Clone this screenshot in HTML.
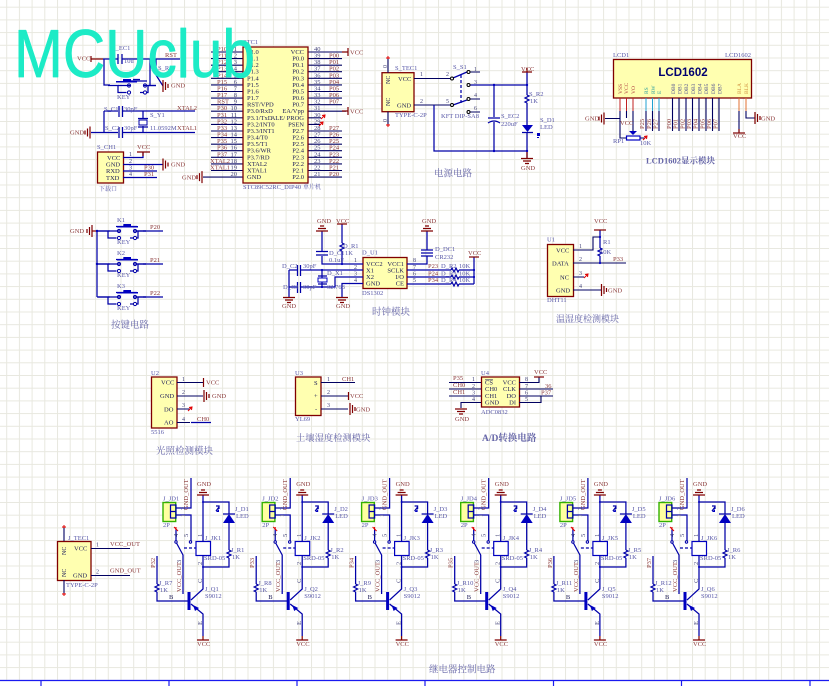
<!DOCTYPE html>
<html><head><meta charset="utf-8"><style>
html,body{margin:0;padding:0;background:#fff}
svg{display:block}
text{font-family:"Liberation Serif","Noto Serif CJK SC",serif;font-size:6.5px}
.w{fill:none;stroke:#0000a8;stroke-width:1.25}
.k{fill:none;stroke:#000060;stroke-width:1.1}
.r{fill:none;stroke:#800000;stroke-width:1.2}
.x{fill:none;stroke:#e00000;stroke-width:1}
.c{fill:#ffffb0;stroke:#800000;stroke-width:1.3}
.f{fill:#0000c0;stroke:none}
.t{fill:#20205a}
.n{fill:#8a3838}
.d{fill:#5858a8}
.z{fill:#44447a;font-size:6px}
.h{fill:#6666a8;font-size:9.5px}
.e{text-anchor:end}
.m{text-anchor:middle}
.b{filter:blur(.3px)}
</style></head><body>
<svg xmlns="http://www.w3.org/2000/svg" width="829" height="686" viewBox="0 0 829 686">
<defs>
<pattern id="gr" x="6.2" y="6.7" width="12.7" height="12.7" patternUnits="userSpaceOnUse"><path d="M0.5 0V12.7M0 0.5H12.7" fill="none" stroke="#e8e8df" stroke-width="1"/></pattern>
<g id="gl" class="r"><path d="M0 -6V6M-2.5 -4V4M-5 -2V2"/></g>
<g id="gg" class="r"><path d="M0 -6V6M2.5 -4V4M5 -2V2"/></g>
<g id="gd" class="r"><path d="M-6 0H6M-4 2.5H4M-2 5H2"/></g>
<g id="gu" class="r"><path d="M-6 0H6M-4 -2.5H4M-2 -5H2"/></g>
<path id="rv" class="w" d="M0 0l2 1-4 2 4 2-4 2 2 1"/>
<path id="rh" class="w" d="M0 0l1-2 2 4 2-4 2 4 1-2"/>
<path id="nc" class="x" d="M-2 2L2 -2M-1 -1.5L2 -2L1.5 1"/>
<g id="sw"><path class="w" d="M-2 0H8V7H16.5M46 0H38V7H30M16 -4.5H37M23 -6H30" stroke-width="1.4"/><circle cx="19" cy="0" r="1.6" fill="#fff" stroke="#0000a8"/><circle cx="19" cy="7" r="1.6" fill="#fff" stroke="#0000a8"/><circle cx="35" cy="0" r="1.6" fill="#fff" stroke="#0000a8"/><circle cx="35" cy="7" r="1.6" fill="#fff" stroke="#0000a8"/><path class="w" d="M20 0H8M34 0H46"/></g>
<g id="relay">
<rect x="163" y="502.5" width="12.7" height="19" fill="#ffffa0" stroke="#33b000" stroke-width="1.4"/>
<path class="w" d="M170.5 505h5.5v13h-5.5zM170.5 511.5h5.5M176 508H191V478M176 515H191V541M176 529V541"/>
<path class="x" d="M174 527L178 531M176 527V530"/>
<circle cx="190.5" cy="542" r="1.2" fill="#fff" stroke="#0000a8"/><circle cx="176" cy="542" r="1.2" fill="#fff" stroke="#0000a8"/>
<path class="w" d="M176.5 543L183 555V594"/>
<path class="w" d="M184 548H196" stroke-dasharray="3 2"/>
<rect x="196" y="541.5" width="14.5" height="14" fill="#fff" stroke="#0000c0" stroke-width="1.2"/>
<path class="w" d="M203 495V541.5M203 555.5V589L191 600M191 604L203 614V636M203 502H229V514M229 522V550M229 558V567H203M157 556V584M157 592V601H188"/>
<path class="r" d="M203 636V640M197 640H209"/>
<use href="#gu" x="203" y="495"/>
<use href="#rv" x="229" y="550"/><use href="#rv" x="157" y="584"/>
<path class="f" d="M229 514L235 523H223Z"/><path class="w" d="M223 514H235" stroke-width="1.4"/>
<path class="w" d="M219 507L216 511M216 506L219 506V509"/><path class="f" d="M216 512h3v-3z"/>
<rect x="187.5" y="592" width="3" height="18" class="f"/>
<path class="f" d="M193 605L199 608L195 611Z"/>
<circle cx="203" cy="502" r="1" class="f"/><circle cx="203" cy="567" r="1" class="f"/>
</g>
</defs>
<rect width="829" height="686" fill="#fff"/>
<rect width="829" height="680" fill="url(#gr)"/>
<path d="M0 680.5H829M41 680V686M169 680V686M297 680V686M425 680V686M553.500 680V686M681.500 680V686M810 680V686" fill="none" stroke="#1a1af0" stroke-width="1.2"/>
<g class="b">

<!-- Reset / crystal -->
<g>
<path class="r" d="M91 56V62M91 59H103"/>
<path class="w" d="M103 59H118M122.500 59H180M104 59V85H110M150 85V59M156 59V75M156 75L163 86"/>
<path class="w" d="M118 54V64M122 54V64" stroke-width="1.3"/>
<use href="#sw" x="110" y="85.500"/>
<path class="f" d="M116 81h21v1.500h-21zM123 79h8v2h-8z"/>
<use href="#gg" x="163" y="86"/>
<text x="77" y="60.500" class="n">VCC</text><text x="112" y="50" class="d">S_EC1</text><text x="124" y="63" class="d">10u</text><text x="165" y="57" class="n">RST</text><text x="158" y="70" class="d">S_R1</text><text x="171" y="87.500" class="n">GND</text><text x="117" y="99" class="d">KEY</text>
<path class="w" d="M104 111H118M122.500 111H195M104 111V132.500M91 132.500H118M122.500 132.500H195M143 111V119M143 126V132.500"/>
<path class="w" d="M119 106V117M122.500 106V117M119 127V138M122.500 127V138M138 118.500H148M138 127H148" stroke-width="1.3"/>
<rect x="139" y="120" width="8" height="5" fill="#fff" stroke="#0000a8"/>
<use href="#gl" x="90" y="132.500"/>
<text x="70" y="134.500" class="n">GND</text><text x="104" y="111" class="d">S_C1</text><text x="124" y="111" class="d">30pF</text><text x="105" y="130" class="d">S_C2</text><text x="124" y="130" class="d">30pF</text><text x="150" y="117" class="d">S_Y1</text><text x="150" y="130" class="d">11.0592M</text><text x="177" y="110" class="n">XTAL2</text><text x="177" y="130" class="n">XTAL1</text>
<rect x="97.500" y="152" width="26" height="31" class="c"/>
<path class="w" d="M123 157.500H143V152M123 164.500H163M123 171H157M123 177.500H157"/>
<path class="r" d="M143 156V152M137 152H150"/><use href="#gg" x="163" y="164.500"/>
<text x="97" y="149" class="d">S_CH1</text><text x="107" y="160" class="t">VCC</text><text x="106" y="166.500" class="t">GND</text><text x="106" y="173" class="t">RXD</text><text x="106" y="180" class="t">TXD</text>
<text x="129" y="156" class="z">1</text><text x="129" y="163" class="z">2</text><text x="129" y="169.500" class="z">3</text><text x="129" y="176" class="z">4</text>
<text x="137" y="149" class="n">VCC</text><text x="171" y="166.500" class="n">GND</text><text x="144" y="169.500" class="n">P30</text><text x="144" y="176" class="n">P31</text>
<text x="99" y="191" class="d" style="font-size:6px">下载口</text>
</g>

<!-- STC89C52 -->
<g>
<path class="k" d="M211 52H243M211 58.600H243M211 65.200H243M211 71.700H243M211 78.300H243M211 84.900H243M211 91.500H243M211 98.100H243M211 104.700H243M211 111.200H243M211 117.800H243M211 124.400H243M211 131H243M211 137.600H243M211 144.200H243M211 150.700H243M211 157.300H243M211 163.900H243M211 170.500H243M203 177.100H243M308 52H346M308 58.600H342M308 65.200H342M308 71.700H342M308 78.300H342M308 84.900H342M308 91.500H342M308 98.100H342M308 111.200H346M308 117.800H321M308 124.400H321M308 131H342M308 137.600H342M308 144.200H342M308 150.700H342M308 157.300H342M308 163.900H342M308 170.500H342M308 177.100H342M308 104.700H342"/>
<path class="r" d="M348 48V56M348 107V115M348 52H342M348 111H342"/>
<use href="#nc" x="323" y="117"/><use href="#nc" x="321" y="124"/>
<use href="#gl" x="202" y="177.100"/>
<rect x="243" y="47" width="65" height="136" class="c"/>
<text x="243" y="44" class="d">STC1</text><text x="243" y="189" class="d">STC89C52RC_DIP40</text><text x="303" y="189" class="d" style="font-size:6px">单片机</text>
<text x="182" y="179.500" class="n">GND</text><text x="350" y="54.500" class="n">VCC</text><text x="350" y="113.500" class="n">VCC</text>
<g class="t">
<text x="247" y="54">P1.0</text><text x="247" y="60.600">P1.1</text><text x="247" y="67.200">P1.2</text><text x="247" y="73.700">P1.3</text><text x="247" y="80.300">P1.4</text><text x="247" y="86.900">P1.5</text><text x="247" y="93.500">P1.6</text><text x="247" y="100.100">P1.7</text><text x="247" y="106.700">RST/VPD</text><text x="247" y="113.200">P3.0/RxD</text><text x="247" y="119.800">P3.1/TxD</text><text x="247" y="126.400">P3.2/INT0</text><text x="247" y="133">P3.3/INT1</text><text x="247" y="139.600">P3.4/T0</text><text x="247" y="146.200">P3.5/T1</text><text x="247" y="152.700">P3.6/WR</text><text x="247" y="159.300">P3.7/RD</text><text x="247" y="165.900">XTAL2</text><text x="247" y="172.500">XTAL1</text><text x="247" y="179.100">GND</text>
<g text-anchor="end"><text x="304" y="54">VCC</text><text x="304" y="60.600">P0.0</text><text x="304" y="67.200">P0.1</text><text x="304" y="73.700">P0.2</text><text x="304" y="80.300">P0.3</text><text x="304" y="86.900">P0.4</text><text x="304" y="93.500">P0.5</text><text x="304" y="100.100">P0.6</text><text x="304" y="106.700">P0.7</text><text x="304" y="113.200">EA/Vpp</text><text x="304" y="119.800">ALE/ PROG</text><text x="304" y="126.400">PSEN</text><text x="304" y="133">P2.7</text><text x="304" y="139.600">P2.6</text><text x="304" y="146.200">P2.5</text><text x="304" y="152.700">P2.4</text><text x="304" y="159.300">P2.3</text><text x="304" y="165.900">P2.2</text><text x="304" y="172.500">P2.1</text><text x="304" y="179.100">P2.0</text></g>
</g>
<g class="z" text-anchor="end">
<text x="237" y="51">1</text><text x="237" y="57.600">2</text><text x="237" y="64.200">3</text><text x="237" y="70.700">4</text><text x="237" y="77.300">5</text><text x="237" y="83.900">6</text><text x="237" y="90.500">7</text><text x="237" y="97.100">8</text><text x="237" y="103.700">9</text><text x="237" y="110.200">10</text><text x="237" y="116.800">11</text><text x="237" y="123.400">12</text><text x="237" y="130">13</text><text x="237" y="136.600">14</text><text x="237" y="143.200">15</text><text x="237" y="149.700">16</text><text x="237" y="156.300">17</text><text x="237" y="162.900">18</text><text x="237" y="169.500">19</text><text x="237" y="176.100">20</text>
</g>
<g class="z">
<text x="314" y="51">40</text><text x="314" y="57.600">39</text><text x="314" y="64.200">38</text><text x="314" y="70.700">37</text><text x="314" y="77.300">36</text><text x="314" y="83.900">35</text><text x="314" y="90.500">34</text><text x="314" y="97.100">33</text><text x="314" y="103.700">32</text><text x="314" y="110.200">31</text><text x="314" y="116.800">30</text><text x="314" y="123.400">29</text><text x="314" y="130">28</text><text x="314" y="136.600">27</text><text x="314" y="143.200">26</text><text x="314" y="149.700">25</text><text x="314" y="156.300">24</text><text x="314" y="162.900">23</text><text x="314" y="169.500">22</text><text x="314" y="176.100">21</text>
</g>
<g class="n">
<text x="217" y="51">P10</text><text x="217" y="57.600">P11</text><text x="217" y="64.200">P12</text><text x="217" y="70.700">P13</text><text x="217" y="77.300">P14</text><text x="217" y="83.900">P15</text><text x="217" y="90.500">P16</text><text x="217" y="97.100">P17</text><text x="217" y="103.700">RST</text><text x="217" y="110.200">P30</text><text x="217" y="116.800">P31</text><text x="217" y="123.400">P32</text><text x="217" y="130">P33</text><text x="217" y="136.600">P34</text><text x="217" y="143.200">P35</text><text x="217" y="149.700">P36</text><text x="217" y="156.300">P37</text><text x="210" y="162.900">XTAL2</text><text x="210" y="169.500">XTAL1</text>
<text x="329" y="57.600">P00</text><text x="329" y="64.200">P01</text><text x="329" y="70.700">P02</text><text x="329" y="77.300">P03</text><text x="329" y="83.900">P04</text><text x="329" y="90.500">P05</text><text x="329" y="97.100">P06</text><text x="329" y="103.700">P07</text><text x="329" y="130">P27</text><text x="329" y="136.600">P26</text><text x="329" y="143.200">P25</text><text x="329" y="149.700">P24</text><text x="329" y="156.300">P23</text><text x="329" y="162.900">P22</text><text x="329" y="169.500">P21</text><text x="329" y="176.100">P20</text>
</g>
</g>

<!-- Power -->
<g>
<rect x="382" y="72.700" width="32" height="39" class="c"/>
<path class="k" d="M388 72.700V58M388 111.700V125M414 78.500H441M414 105H434"/>
<path class="x" d="M386 58H390M388 56V59M386 125H390M388 127V124"/>
<text x="398" y="81" class="t">VCC</text><text x="397" y="107.500" class="t">GND</text>
<text transform="rotate(-90 390 84)" x="390" y="84" class="t" style="font-size:6px">NC</text><text transform="rotate(-90 390 106)" x="390" y="106" class="t" style="font-size:6px">NC</text>
<text x="395" y="70" class="d">S_TEC1</text><text x="395" y="117" class="d">TYPE-C-2P</text>
<text transform="rotate(-90 387 68)" x="387" y="68" class="z">0</text><text transform="rotate(-90 387 122)" x="387" y="122" class="z">0</text>
<text x="420" y="76" class="z">1</text><text x="420" y="103" class="z">2</text><text x="446" y="76" class="z">2</text><text x="446" y="103" class="z">5</text>
<path class="k" d="M430 78.500H450M430 105H450M470 72H480M470 99H480M470 112H480"/>
<path class="w" d="M453 78L467 72M453 105L467 100"/><path class="w" d="M461 75V103" stroke-dasharray="3 2"/>
<path class="w" d="M470 85H527M434 105V151H527M494 85V117M494 122V151M527 72V95M527 103V125M527 132V158"/>
<circle cx="452" cy="78.500" r="1.5" fill="#fff" stroke="#000"/><circle cx="452" cy="105" r="1.500" fill="#fff" stroke="#000"/><circle cx="468.500" cy="72" r="1.500" fill="#fff" stroke="#000"/><circle cx="468.500" cy="85" r="1.500" fill="#fff" stroke="#000"/><circle cx="468.500" cy="99" r="1.500" fill="#fff" stroke="#000"/><circle cx="468.500" cy="112" r="1.500" fill="#fff" stroke="#000"/>
<text x="474" y="71" class="z">1</text><text x="474" y="84" class="z">3</text><text x="474" y="97" class="z">4</text><text x="474" y="110" class="z">6</text>
<text x="453" y="69" class="d">S_S1</text><text x="441" y="118" class="d">KFT DIP-SA8</text>
<circle cx="494" cy="85" r="1.200" class="f"/><circle cx="494" cy="151" r="1.200" class="f"/><circle cx="527" cy="85" r="1.200" class="f"/><circle cx="527" cy="151" r="1.200" class="f"/>
<path class="w" d="M488 118H500M488 123Q494 119 500 123" stroke-width="1.300"/>
<text x="501" y="118" class="d">S_EC2</text><text x="501" y="126" class="d">220uF</text>
<path class="r" d="M522 72H532M527 72V68"/><text x="521" y="71" class="n">VCC</text>
<use href="#rv" x="527" y="95"/><text x="529" y="96" class="d">S_R2</text><text x="530" y="103" class="d">1K</text>
<path class="f" d="M522 125H533L527.500 132Z"/><path class="w" d="M522 132.500H533" stroke-width="1.300"/>
<path class="f" d="M537 133h3v3h-3zM537 138h2v-1h-2z"/>
<text x="540" y="122" class="d">S_D1</text><text x="540" y="129" class="d">LED</text>
<path class="r" d="M527 152V158"/><use href="#gd" x="527" y="158.500"/><text x="521" y="170" class="n">GND</text>
<text x="434" y="176.500" class="h">电源电路</text>
</g>

<!-- LCD -->
<g>
<rect x="613.500" y="59.500" width="138" height="38.500" class="c"/>
<text x="683" y="76" class="m" style="font:bold 11.5px 'Liberation Sans',sans-serif;fill:#000070">LCD1602</text>
<text x="613" y="57" class="d">LCD1</text><text x="725" y="57" class="d">LCD1602</text>
<g fill="#b04040"><text transform="rotate(-90 622 94)" x="622" y="94" style="font-size:5.500px">VSS</text><text transform="rotate(-90 628 94)" x="628" y="94" style="font-size:5.500px">VCC</text><text transform="rotate(-90 635 94)" x="635" y="94" style="font-size:5.500px">VO</text></g>
<g fill="#30a0a0"><text transform="rotate(-90 648 94)" x="648" y="94" style="font-size:5.500px">RS</text><text transform="rotate(-90 655 94)" x="655" y="94" style="font-size:5.500px">RW</text><text transform="rotate(-90 661 94)" x="661" y="94" style="font-size:5.500px">E</text></g>
<g fill="#505090"><text transform="rotate(-90 675 94)" x="675" y="94" style="font-size:5.500px">DB0</text><text transform="rotate(-90 681.500 94)" x="681.500" y="94" style="font-size:5.500px">DB1</text><text transform="rotate(-90 688 94)" x="688" y="94" style="font-size:5.500px">DB2</text><text transform="rotate(-90 695 94)" x="695" y="94" style="font-size:5.500px">DB3</text><text transform="rotate(-90 701.500 94)" x="701.500" y="94" style="font-size:5.500px">DB4</text><text transform="rotate(-90 708 94)" x="708" y="94" style="font-size:5.500px">DB5</text><text transform="rotate(-90 715 94)" x="715" y="94" style="font-size:5.500px">DB6</text><text transform="rotate(-90 721.500 94)" x="721.500" y="94" style="font-size:5.500px">DB7</text></g>
<g fill="#d09040"><text transform="rotate(-90 741 94)" x="741" y="94" style="font-size:5.500px">BLA</text><text transform="rotate(-90 748 94)" x="748" y="94" style="font-size:5.500px">BLK</text></g>
<path d="M620 98V111M626.500 98V111M633 98V111" fill="none" stroke="#c02020"/>
<path d="M646 98V111M652.500 98V111M659 98V111" fill="none" stroke="#20a0d0"/>
<path d="M739 98V111M746 98V111" fill="none" stroke="#e07030"/>
<path class="k" d="M620 111V138H626.500M626.500 111V118M633 111V133M646 111V131M652.500 111V131M659 111V131M672.500 98V131M679 98V131M686 98V131M692.500 98V131M699 98V131M706 98V131M712.500 98V131M719 98V131M739 111V132M746 111V118H755M605 118.500H620M640 138H645"/>
<path class="f" d="M629 131H637L633 135Z"/>
<rect x="626.500" y="136" width="13.500" height="4" fill="#fff" stroke="#0000c0" stroke-width="1.200"/>
<use href="#gl" x="604" y="118.500"/><use href="#gg" x="755" y="118"/><path class="r" d="M733 133H745"/><path class="r" d="M739 129V133"/>
<use href="#nc" x="645" y="138"/>
<text x="585" y="120.500" class="n">GND</text><text x="761" y="120.500" class="n">GND</text><text x="620" y="125" class="n">VCC</text><text x="733" y="138" class="n">VCC</text>
<text x="613" y="143" class="d">RP1</text><text x="640" y="145" class="d">10K</text>
<g class="n"><text transform="rotate(-90 644 129)" x="644" y="129">P25</text><text transform="rotate(-90 651 129)" x="651" y="129">P26</text><text transform="rotate(-90 657.500 129)" x="657.500" y="129">P27</text><text transform="rotate(-90 671 129)" x="671" y="129">P00</text><text transform="rotate(-90 677.500 129)" x="677.500" y="129">P01</text><text transform="rotate(-90 684.500 129)" x="684.500" y="129">P02</text><text transform="rotate(-90 691 129)" x="691" y="129">P03</text><text transform="rotate(-90 697.500 129)" x="697.500" y="129">P04</text><text transform="rotate(-90 704.500 129)" x="704.500" y="129">P05</text><text transform="rotate(-90 711 129)" x="711" y="129">P06</text><text transform="rotate(-90 717.500 129)" x="717.500" y="129">P07</text></g>
<text x="646" y="163.500" class="h" style="font-weight:bold;font-size:8.500px">LCD1602显示模块</text>
</g>

<!-- Keys -->
<g>
<use href="#gl" x="92" y="231"/><path class="r" d="M92 231H97"/>
<path class="w" d="M97 231V297"/><circle cx="97" cy="231" r="1.200" class="f"/><circle cx="97" cy="264" r="1.200" class="f"/>
<g transform="translate(0,231)"><path class="w" d="M97 0H110M143 0H163"/><use href="#sw" x="100" y="0"/><path class="f" d="M117 -5h21v1.500h-21zM124 -7h7v2h-7z"/></g>
<g transform="translate(0,264)"><path class="w" d="M97 0H110M143 0H163"/><use href="#sw" x="100" y="0"/><path class="f" d="M117 -5h21v1.500h-21zM124 -7h7v2h-7z"/></g>
<g transform="translate(0,297)"><path class="w" d="M97 0H110M143 0H163"/><use href="#sw" x="100" y="0"/><path class="f" d="M117 -5h21v1.500h-21zM124 -7h7v2h-7z"/></g>
<text x="70" y="233" class="n">GND</text>
<text x="117" y="222" class="d">K1</text><text x="117" y="244" class="d">KEY</text><text x="150" y="229" class="n">P20</text>
<text x="117" y="255" class="d">K2</text><text x="117" y="277" class="d">KEY</text><text x="150" y="262" class="n">P21</text>
<text x="117" y="288" class="d">K3</text><text x="117" y="310" class="d">KEY</text><text x="150" y="295" class="n">P22</text>
<text x="111" y="328" class="h">按键电路</text>
</g>

<!-- Clock -->
<g>
<rect x="363" y="257.500" width="44" height="31" class="c"/>
<text x="362" y="254.500" class="d">D_U1</text><text x="362" y="295" class="d">DS1302</text>
<text x="366" y="266" class="t">VCC2</text><text x="366" y="272.500" class="t">X1</text><text x="366" y="279" class="t">X2</text><text x="366" y="285.500" class="t">GND</text>
<g class="t" text-anchor="end"><text x="404" y="266">VCC1</text><text x="404" y="272.500">SCLK</text><text x="404" y="279">I/O</text><text x="404" y="285.500">CE</text></g>
<text x="354" y="262" class="z">1</text><text x="354" y="269" class="z">2</text><text x="354" y="275.500" class="z">3</text><text x="354" y="282" class="z">4</text>
<text x="413" y="262" class="z">8</text><text x="413" y="269" class="z">7</text><text x="413" y="275.500" class="z">6</text><text x="413" y="282" class="z">5</text>
<path class="w" d="M322 231V251M322 256V264H363M342 224V243M342 251V264M289 270H297M301 270H363M289 287H297M301 287H322M289 270V297M322 270V278M322 282V287M363 277H335V287H322M363 283.500H342V297M407 264H427V256M427 250V231M407 270H451M407 277H451M407 284H451M459 270H474M459 277H474M459 284H474M474 257V284"/>
<path class="w" d="M316 251.500H328M316 255H328M297.500 265V276M300.500 265V276M297.500 282V293M300.500 282V293M318 276H327M318 284H327M421 250H433M421 253H433M421 256H433" stroke-width="1.300"/>
<rect x="318" y="278" width="9" height="4" fill="#fff" stroke="#0000c0"/>
<use href="#gu" x="322" y="231"/><use href="#gu" x="427" y="231"/><path class="r" d="M337 224H347"/>
<use href="#gd" x="289" y="297.500"/><use href="#gd" x="342" y="297.500"/><path class="r" d="M469 257H479"/>
<use href="#rv" x="342" y="243"/><use href="#rh" x="451" y="270"/><use href="#rh" x="451" y="277"/><use href="#rh" x="451" y="284"/>
<circle cx="342" cy="264" r="1.100" class="f"/><circle cx="322" cy="270" r="1.100" class="f"/><circle cx="322" cy="287" r="1.100" class="f"/><circle cx="474" cy="270" r="1.100" class="f"/><circle cx="474" cy="277" r="1.100" class="f"/>
<text x="317" y="223" class="n">GND</text><text x="336" y="223" class="n">VCC</text><text x="422" y="223" class="n">GND</text><text x="468" y="255" class="n">VCC</text><text x="282" y="308" class="n">GND</text><text x="336" y="308" class="n">GND</text>
<text x="343" y="248" class="d">D_R1</text><text x="345" y="255" class="d">1K</text><text x="329" y="255" class="d">D_C1</text><text x="329" y="262" class="d">0.1uF</text>
<text x="282" y="268" class="d">D_C2</text><text x="303" y="268" class="d">30pF</text><text x="283" y="289" class="d">D_C3</text><text x="303" y="289" class="d">30pF</text><text x="327" y="275" class="d">D_X1</text><text x="327" y="289" class="d">32.768</text>
<text x="435" y="251" class="d">D_DC1</text><text x="435" y="259" class="d">CR232</text>
<text x="428" y="268" class="n">P23</text><text x="428" y="275.500" class="n">P24</text><text x="428" y="282" class="n">P34</text>
<text x="441" y="268" class="d">D_R2</text><text x="441" y="275.500" class="d">D_R3</text><text x="441" y="282" class="d">D_R4</text>
<text x="459" y="268" class="d">10K</text><text x="459" y="275.500" class="d">10K</text><text x="459" y="282" class="d">10K</text>
<text x="372" y="315" class="h">时钟模块</text>
</g>

<!-- DHT11 -->
<g>
<rect x="547.500" y="244.500" width="26" height="52" class="c"/>
<path class="k" d="M573 250H593V237H600M573 263H626M573 277H584M573 290H601"/>
<path class="w" d="M600 230V248M600 256V263"/>
<use href="#rv" x="600" y="248"/><use href="#nc" x="586" y="276"/><use href="#gg" x="601.500" y="290"/>
<path class="r" d="M594 230H606"/><circle cx="600" cy="237" r="1.100" class="f"/><circle cx="600" cy="263" r="1.100" class="f"/>
<text x="556" y="252.500" class="t">VCC</text><text x="552" y="265.500" class="t">DATA</text><text x="560" y="279.500" class="t">NC</text><text x="556" y="292.500" class="t">GND</text>
<text x="579" y="248" class="z">1</text><text x="579" y="261" class="z">2</text><text x="579" y="275" class="z">3</text><text x="579" y="288" class="z">4</text>
<text x="547" y="241.500" class="d">U1</text><text x="547" y="302" class="d">DHT11</text><text x="594" y="223" class="n">VCC</text><text x="603" y="244" class="d">R1</text><text x="600" y="254" class="d">10K</text><text x="613" y="261" class="n">P33</text><text x="608" y="292.500" class="n">GND</text>
<text x="556" y="322" class="h" style="font-size:9px">温湿度检测模块</text>
</g>

<!-- U2 U3 -->
<g>
<rect x="151.500" y="377" width="25.500" height="51" class="c"/>
<path class="k" d="M177 382.500H203M177 396H203M177 409H190M177 422.500H190"/><path class="w" d="M191 422.500H211"/>
<path class="r" d="M203.500 378V387"/><use href="#gg" x="204" y="396"/><use href="#nc" x="190" y="409"/>
<text x="161" y="384.500" class="t">VCC</text><text x="160" y="398" class="t">GND</text><text x="164" y="411.500" class="t">DO</text><text x="164" y="424.500" class="t">AO</text>
<text x="182" y="381" class="z">1</text><text x="182" y="394" class="z">2</text><text x="182" y="407" class="z">3</text><text x="182" y="421" class="z">4</text>
<text x="151" y="375" class="d">U2</text><text x="151" y="434" class="d">5516</text><text x="206" y="384.500" class="n">VCC</text><text x="212" y="398" class="n">GND</text><text x="197" y="421" class="n">CH0</text>
<text x="156" y="454" class="h">光照检测模块</text>
<rect x="295.500" y="377" width="25.500" height="38.500" class="c"/>
<path class="k" d="M321 382.500H355M321 396H348M321 409H348"/>
<path class="r" d="M348.500 392V400"/><use href="#gg" x="350" y="409"/>
<text x="314" y="385" class="t">S</text><text x="314" y="398" class="t">+</text><text x="315" y="411.500" class="t">-</text>
<text x="327" y="381" class="z">1</text><text x="327" y="394" class="z">2</text><text x="327" y="407" class="z">3</text>
<text x="295" y="375" class="d">U3</text><text x="295" y="421" class="d">YL69</text><text x="342" y="381" class="n">CH1</text><text x="350" y="398" class="n">VCC</text><text x="356" y="411.500" class="n">GND</text>
<text x="296" y="441" class="h" style="font-size:9.300px">土壤湿度检测模块</text>
</g>

<!-- U4 -->
<g>
<rect x="481.500" y="377" width="38" height="30" class="c"/>
<path class="k" d="M449 382.500H481M449 389H481M449 396H481M519 382.500H539V377M519 389H553M519 396H553M519 402.500H541V396M481 402.500H461V408"/>
<path class="r" d="M534 377H544"/><use href="#gd" x="461" y="409"/>
<text x="485" y="384.500" class="t" style="text-decoration:overline">CS</text><text x="485" y="391" class="t">CH0</text><text x="485" y="398" class="t">CH1</text><text x="485" y="404.500" class="t">GND</text>
<g class="t" text-anchor="end"><text x="516" y="384.500">VCC</text><text x="516" y="391">CLK</text><text x="516" y="398">DO</text><text x="516" y="404.500">DI</text></g>
<text x="472" y="381" class="z">1</text><text x="472" y="388" class="z">2</text><text x="472" y="394.500" class="z">3</text><text x="472" y="401" class="z">4</text><text x="525" y="381" class="z">8</text><text x="525" y="388" class="z">7</text><text x="525" y="394.500" class="z">6</text><text x="525" y="401" class="z">5</text>
<text x="481" y="375" class="d">U4</text><text x="481" y="414" class="d">ADC0832</text>
<text x="453" y="380" class="n">P35</text><text x="453" y="387" class="n">CH0</text><text x="453" y="394" class="n">CH1</text><text x="455" y="421" class="n">GND</text><text x="534" y="374" class="n">VCC</text><text x="545" y="388" class="n">36</text><text x="541" y="394.500" class="n">P37</text>
<text x="482" y="441" class="h" style="font-weight:bold">A/D转换电路</text>
</g>

<!-- J_TEC1 -->
<g>
<rect x="57.500" y="541.500" width="33.500" height="39" class="c"/>
<path class="k" d="M64 541V527M64 580V594M91 548.500H130M91 575.500H130"/>
<path class="x" d="M62 527H66M64 525V528M62 594H66M64 596V593"/>
<text x="74" y="550.500" class="t">VCC</text><text x="73" y="577.500" class="t">GND</text>
<text transform="rotate(-90 66 555)" x="66" y="555" class="t" style="font-size:6px">NC</text><text transform="rotate(-90 66 577)" x="66" y="577" class="t" style="font-size:6px">NC</text>
<text x="68" y="540" class="d">J_TEC1</text><text x="66" y="587" class="d">TYPE-C-2P</text>
<text x="96" y="546.500" class="z">1</text><text x="96" y="573.500" class="z">2</text>
<text x="110" y="546" class="n">VCC_OUT</text><text x="110" y="572.500" class="n">GND_OUT</text>
</g>

<!-- Relay 1 -->
<g>
<use href="#relay"/>
<text x="163" y="500.500" class="d">J_JD1</text><text x="163" y="527" class="d">2P</text><text x="205" y="540" class="d">J_JK1</text><text x="204" y="560" class="d">SRD-05</text><text x="235" y="511" class="d">J_D1</text><text x="236" y="518" class="d">LED</text><text x="231" y="552" class="d">J_R1</text><text x="232" y="559" class="d">1K</text><text x="159" y="585" class="d">J_R7</text><text x="160" y="592" class="d">1K</text><text x="205" y="591" class="d">J_Q1</text><text x="205" y="598" class="d">S9012</text><text x="169" y="599" class="t">B</text>
<text x="197" y="486" class="n">GND</text><text x="197" y="646" class="n">VCC</text>
<g class="n"><text transform="rotate(-90 188 510)" x="188" y="510">GND_OUT</text><text transform="rotate(-90 181 592)" x="181" y="592">VCC_OUT</text><text transform="rotate(-90 155 568)" x="155" y="568">P32</text></g>
<g class="z"><text transform="rotate(-90 202 537)" x="202" y="537">1</text><text transform="rotate(-90 202 565)" x="202" y="565">2</text><text transform="rotate(-90 202 583)" x="202" y="583">C</text><text transform="rotate(-90 202 625)" x="202" y="625">E</text><text transform="rotate(-90 185 510)" x="185" y="510">2</text><text transform="rotate(-90 185 517)" x="185" y="517">1</text><text transform="rotate(-90 188 537)" x="188" y="537">5</text><text transform="rotate(-90 178 537)" x="178" y="537">4</text><text transform="rotate(-90 181 563)" x="181" y="563">3</text></g>
</g>
<!-- Relay 2 -->
<g transform="translate(99.200,0)">
<use href="#relay"/>
<text x="163" y="500.500" class="d">J_JD2</text><text x="163" y="527" class="d">2P</text><text x="205" y="540" class="d">J_JK2</text><text x="204" y="560" class="d">SRD-05</text><text x="235" y="511" class="d">J_D2</text><text x="236" y="518" class="d">LED</text><text x="231" y="552" class="d">J_R2</text><text x="232" y="559" class="d">1K</text><text x="159" y="585" class="d">J_R8</text><text x="160" y="592" class="d">1K</text><text x="205" y="591" class="d">J_Q2</text><text x="205" y="598" class="d">S9012</text><text x="169" y="599" class="t">B</text>
<text x="197" y="486" class="n">GND</text><text x="197" y="646" class="n">VCC</text>
<g class="n"><text transform="rotate(-90 188 510)" x="188" y="510">GND_OUT</text><text transform="rotate(-90 181 592)" x="181" y="592">VCC_OUT</text><text transform="rotate(-90 155 568)" x="155" y="568">P33</text></g>
<g class="z"><text transform="rotate(-90 202 537)" x="202" y="537">1</text><text transform="rotate(-90 202 565)" x="202" y="565">2</text><text transform="rotate(-90 202 583)" x="202" y="583">C</text><text transform="rotate(-90 202 625)" x="202" y="625">E</text><text transform="rotate(-90 185 510)" x="185" y="510">2</text><text transform="rotate(-90 185 517)" x="185" y="517">1</text><text transform="rotate(-90 188 537)" x="188" y="537">5</text><text transform="rotate(-90 178 537)" x="178" y="537">4</text><text transform="rotate(-90 181 563)" x="181" y="563">3</text></g>
</g>
<!-- Relay 3 -->
<g transform="translate(198.600,0)">
<use href="#relay"/>
<text x="163" y="500.500" class="d">J_JD3</text><text x="163" y="527" class="d">2P</text><text x="205" y="540" class="d">J_JK3</text><text x="204" y="560" class="d">SRD-05</text><text x="235" y="511" class="d">J_D3</text><text x="236" y="518" class="d">LED</text><text x="231" y="552" class="d">J_R3</text><text x="232" y="559" class="d">1K</text><text x="159" y="585" class="d">J_R9</text><text x="160" y="592" class="d">1K</text><text x="205" y="591" class="d">J_Q3</text><text x="205" y="598" class="d">S9012</text><text x="169" y="599" class="t">B</text>
<text x="197" y="486" class="n">GND</text><text x="197" y="646" class="n">VCC</text>
<g class="n"><text transform="rotate(-90 188 510)" x="188" y="510">GND_OUT</text><text transform="rotate(-90 181 592)" x="181" y="592">VCC_OUT</text><text transform="rotate(-90 155 568)" x="155" y="568">P34</text></g>
<g class="z"><text transform="rotate(-90 202 537)" x="202" y="537">1</text><text transform="rotate(-90 202 565)" x="202" y="565">2</text><text transform="rotate(-90 202 583)" x="202" y="583">C</text><text transform="rotate(-90 202 625)" x="202" y="625">E</text><text transform="rotate(-90 185 510)" x="185" y="510">2</text><text transform="rotate(-90 185 517)" x="185" y="517">1</text><text transform="rotate(-90 188 537)" x="188" y="537">5</text><text transform="rotate(-90 178 537)" x="178" y="537">4</text><text transform="rotate(-90 181 563)" x="181" y="563">3</text></g>
</g>
<!-- Relay 4 -->
<g transform="translate(297.700,0)">
<use href="#relay"/>
<text x="163" y="500.500" class="d">J_JD4</text><text x="163" y="527" class="d">2P</text><text x="205" y="540" class="d">J_JK4</text><text x="204" y="560" class="d">SRD-05</text><text x="235" y="511" class="d">J_D4</text><text x="236" y="518" class="d">LED</text><text x="231" y="552" class="d">J_R4</text><text x="232" y="559" class="d">1K</text><text x="159" y="585" class="d">J_R10</text><text x="160" y="592" class="d">1K</text><text x="205" y="591" class="d">J_Q4</text><text x="205" y="598" class="d">S9012</text><text x="169" y="599" class="t">B</text>
<text x="197" y="486" class="n">GND</text><text x="197" y="646" class="n">VCC</text>
<g class="n"><text transform="rotate(-90 188 510)" x="188" y="510">GND_OUT</text><text transform="rotate(-90 181 592)" x="181" y="592">VCC_OUT</text><text transform="rotate(-90 155 568)" x="155" y="568">P35</text></g>
<g class="z"><text transform="rotate(-90 202 537)" x="202" y="537">1</text><text transform="rotate(-90 202 565)" x="202" y="565">2</text><text transform="rotate(-90 202 583)" x="202" y="583">C</text><text transform="rotate(-90 202 625)" x="202" y="625">E</text><text transform="rotate(-90 185 510)" x="185" y="510">2</text><text transform="rotate(-90 185 517)" x="185" y="517">1</text><text transform="rotate(-90 188 537)" x="188" y="537">5</text><text transform="rotate(-90 178 537)" x="178" y="537">4</text><text transform="rotate(-90 181 563)" x="181" y="563">3</text></g>
</g>
<!-- Relay 5 -->
<g transform="translate(396.900,0)">
<use href="#relay"/>
<text x="163" y="500.500" class="d">J_JD5</text><text x="163" y="527" class="d">2P</text><text x="205" y="540" class="d">J_JK5</text><text x="204" y="560" class="d">SRD-05</text><text x="235" y="511" class="d">J_D5</text><text x="236" y="518" class="d">LED</text><text x="231" y="552" class="d">J_R5</text><text x="232" y="559" class="d">1K</text><text x="159" y="585" class="d">J_R11</text><text x="160" y="592" class="d">1K</text><text x="205" y="591" class="d">J_Q5</text><text x="205" y="598" class="d">S9012</text><text x="169" y="599" class="t">B</text>
<text x="197" y="486" class="n">GND</text><text x="197" y="646" class="n">VCC</text>
<g class="n"><text transform="rotate(-90 188 510)" x="188" y="510">GND_OUT</text><text transform="rotate(-90 181 592)" x="181" y="592">VCC_OUT</text><text transform="rotate(-90 155 568)" x="155" y="568">P36</text></g>
<g class="z"><text transform="rotate(-90 202 537)" x="202" y="537">1</text><text transform="rotate(-90 202 565)" x="202" y="565">2</text><text transform="rotate(-90 202 583)" x="202" y="583">C</text><text transform="rotate(-90 202 625)" x="202" y="625">E</text><text transform="rotate(-90 185 510)" x="185" y="510">2</text><text transform="rotate(-90 185 517)" x="185" y="517">1</text><text transform="rotate(-90 188 537)" x="188" y="537">5</text><text transform="rotate(-90 178 537)" x="178" y="537">4</text><text transform="rotate(-90 181 563)" x="181" y="563">3</text></g>
</g>
<!-- Relay 6 -->
<g transform="translate(496,0)">
<use href="#relay"/>
<text x="163" y="500.500" class="d">J_JD6</text><text x="163" y="527" class="d">2P</text><text x="205" y="540" class="d">J_JK6</text><text x="204" y="560" class="d">SRD-05</text><text x="235" y="511" class="d">J_D6</text><text x="236" y="518" class="d">LED</text><text x="231" y="552" class="d">J_R6</text><text x="232" y="559" class="d">1K</text><text x="159" y="585" class="d">J_R12</text><text x="160" y="592" class="d">1K</text><text x="205" y="591" class="d">J_Q6</text><text x="205" y="598" class="d">S9012</text><text x="169" y="599" class="t">B</text>
<text x="197" y="486" class="n">GND</text><text x="197" y="646" class="n">VCC</text>
<g class="n"><text transform="rotate(-90 188 510)" x="188" y="510">GND_OUT</text><text transform="rotate(-90 181 592)" x="181" y="592">VCC_OUT</text><text transform="rotate(-90 155 568)" x="155" y="568">P37</text></g>
<g class="z"><text transform="rotate(-90 202 537)" x="202" y="537">1</text><text transform="rotate(-90 202 565)" x="202" y="565">2</text><text transform="rotate(-90 202 583)" x="202" y="583">C</text><text transform="rotate(-90 202 625)" x="202" y="625">E</text><text transform="rotate(-90 185 510)" x="185" y="510">2</text><text transform="rotate(-90 185 517)" x="185" y="517">1</text><text transform="rotate(-90 188 537)" x="188" y="537">5</text><text transform="rotate(-90 178 537)" x="178" y="537">4</text><text transform="rotate(-90 181 563)" x="181" y="563">3</text></g>
</g>
<text x="429" y="672.500" class="h">继电器控制电路</text>
</g>

<!-- Watermark -->
<text x="14" y="77" style="font:68px 'Liberation Sans',sans-serif;fill:#1cebc6;stroke:#1cebc6;stroke-width:.7;stroke-linejoin:round" textLength="241" lengthAdjust="spacingAndGlyphs">MCUclub</text>
</svg>
</body></html>
